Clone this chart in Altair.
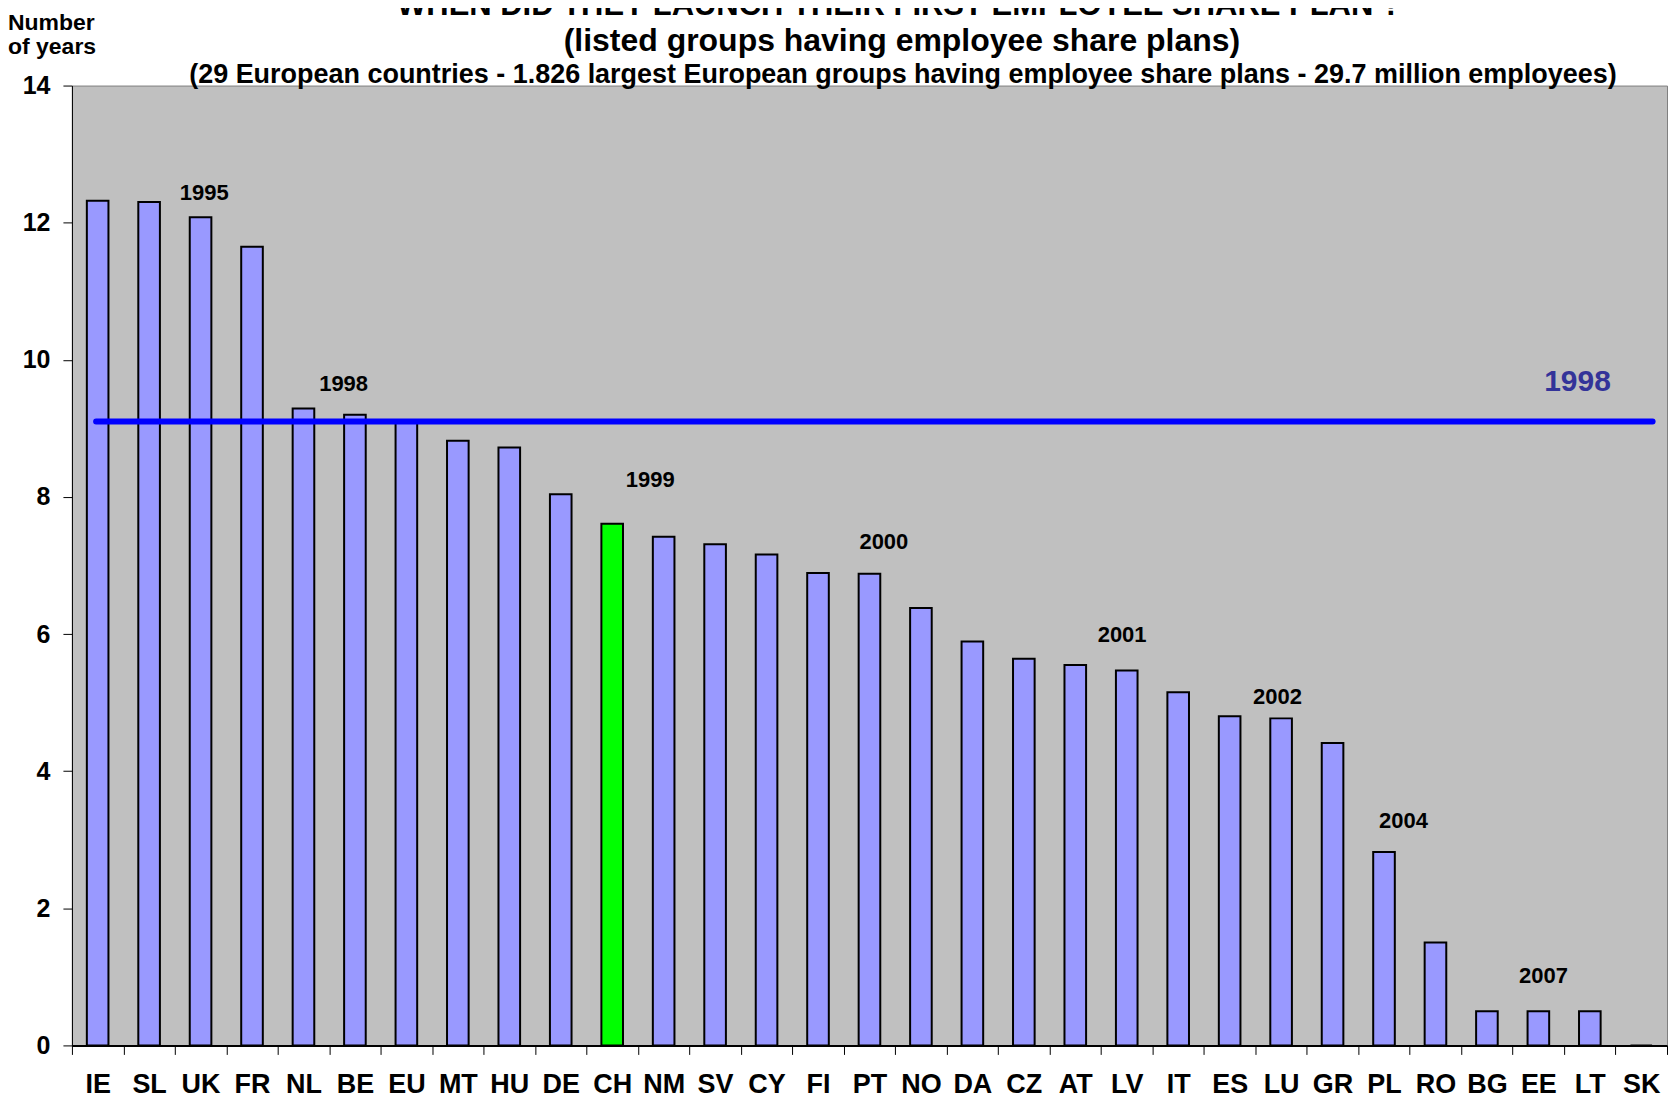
import altair as alt
import pandas as pd

countries = ["IE", "SL", "UK", "FR", "NL", "BE", "EU", "MT", "HU", "DE", "CH", "NM", "SV", "CY", "FI",
             "PT", "NO", "DA", "CZ", "AT", "LV", "IT", "ES", "LU", "GR", "PL", "RO", "BG", "EE", "LT", "SK"]
years = [12.32, 12.30, 12.08, 11.65, 9.29, 9.20, 9.10, 8.82, 8.72, 8.04, 7.61, 7.42, 7.31, 7.16, 6.89,
         6.88, 6.38, 5.89, 5.64, 5.55, 5.47, 5.15, 4.80, 4.77, 4.41, 2.82, 1.50, 0.50, 0.50, 0.50, 0.0]
highlight = "CH"

ann_text = ["1995", "1998", "1999", "2000", "2001", "2002", "2004", "2007"]
ann_pos = [2.57, 5.28, 11.24, 15.78, 20.41, 23.43, 25.88, 28.60]
ann_y = [12.44, 9.64, 8.25, 7.34, 5.99, 5.08, 3.27, 1.01]

ref_label = "1998"
ref_value = 9.1
ref_start = 0.47
ref_end = 30.72
ref_label_pos = 29.26
ref_label_y = 9.67

title_line1 = "WHEN DID THEY LAUNCH THEIR FIRST EMPLOYEE SHARE PLAN ?"
title_line2 = "(listed groups having employee share plans)"
title_line3 = "(29 European countries - 1.826 largest European groups having employee share plans - 29.7 million employees)"
y_title_line1 = "Number"
y_title_line2 = "of years"

FONT = "Liberation Sans"

bars_df = pd.DataFrame({"country": countries, "years": years})
ann_df = pd.DataFrame({"label": ann_text, "pos": ann_pos, "y": ann_y})
ref_df = pd.DataFrame({"x": [ref_start], "x2": [ref_end], "y": [ref_value]})
ref_lbl_df = pd.DataFrame({"label": [ref_label], "pos": [ref_label_pos], "y": [ref_label_y]})

yscale = alt.Scale(domain=[0, 14], nice=False)
xlin = alt.Scale(domain=[0, len(countries)], nice=False, zero=False)

bars = alt.Chart(bars_df).mark_bar(
    width=alt.RelativeBandSize(0.42), stroke="black", strokeWidth=2
).encode(
    x=alt.X("country:N", sort=countries, title=None,
            scale=alt.Scale(paddingInner=0, paddingOuter=0),
            axis=alt.Axis(labelAngle=0, tickBand="extent", labelFont=FONT, labelFontSize=27,
                          labelFontWeight="bold", labelColor="black", labelPadding=17,
                          tickSize=9, tickColor="black", domainColor="black", domainWidth=2)),
    y=alt.Y("years:Q", scale=yscale, title=None,
            axis=alt.Axis(values=[0, 2, 4, 6, 8, 10, 12, 14], format="d", grid=False, labelFont=FONT,
                          labelFontSize=25, labelFontWeight="bold", labelColor="black",
                          labelPadding=13, tickSize=9, tickColor="black", domainColor="black")),
    color=alt.condition(alt.datum.country == highlight, alt.value("#00FF00"), alt.value("#9999FF")),
)

rule = alt.Chart(ref_df).mark_rule(color="#0000FF", strokeWidth=6, strokeCap="round").encode(
    x=alt.X("x:Q", scale=xlin, axis=None),
    x2="x2:Q",
    y=alt.Y("y:Q", scale=yscale),
)

ann = alt.Chart(ann_df).mark_text(font=FONT, fontSize=22, fontWeight="bold", color="black",
                                  baseline="middle", align="center").encode(
    x=alt.X("pos:Q", scale=xlin, axis=None),
    y=alt.Y("y:Q", scale=yscale),
    text="label:N",
)

ref_txt = alt.Chart(ref_lbl_df).mark_text(font=FONT, fontSize=30, fontWeight="bold", color="#333399",
                                          baseline="middle", align="center").encode(
    x=alt.X("pos:Q", scale=xlin, axis=None),
    y=alt.Y("y:Q", scale=yscale),
    text="label:N",
)


def label_layer(text, x, y, size, align="center"):
    return alt.Chart(alt.Data(values=[{"t": text}])).mark_text(
        font=FONT, fontSize=size, fontWeight="bold", color="black", align=align,
        baseline="alphabetic", clip=False
    ).encode(x=alt.value(x), y=alt.value(y), text="t:N")


t1 = label_layer(title_line1, 828, -71, 31)
t2 = label_layer(title_line2, 831, -35, 32)
t3 = label_layer(title_line3, 832, -3, 27)
yt1 = label_layer(y_title_line1, -64, -56, 23, "left")
yt2 = label_layer(y_title_line2, -64, -32, 23, "left")

chart = alt.layer(bars, rule, ann, ref_txt, t1, t2, t3, yt1, yt2).resolve_scale(x="independent").properties(
    width=1597, height=961,
    autosize=alt.AutoSizeParams(type="none"),
    padding={"left": 64, "top": 77, "right": 4, "bottom": 53},
).configure_view(fill="#C0C0C0", stroke="#808080", strokeWidth=1)

chart.save("out.html", embed_options={"renderer": "svg", "actions": False})
